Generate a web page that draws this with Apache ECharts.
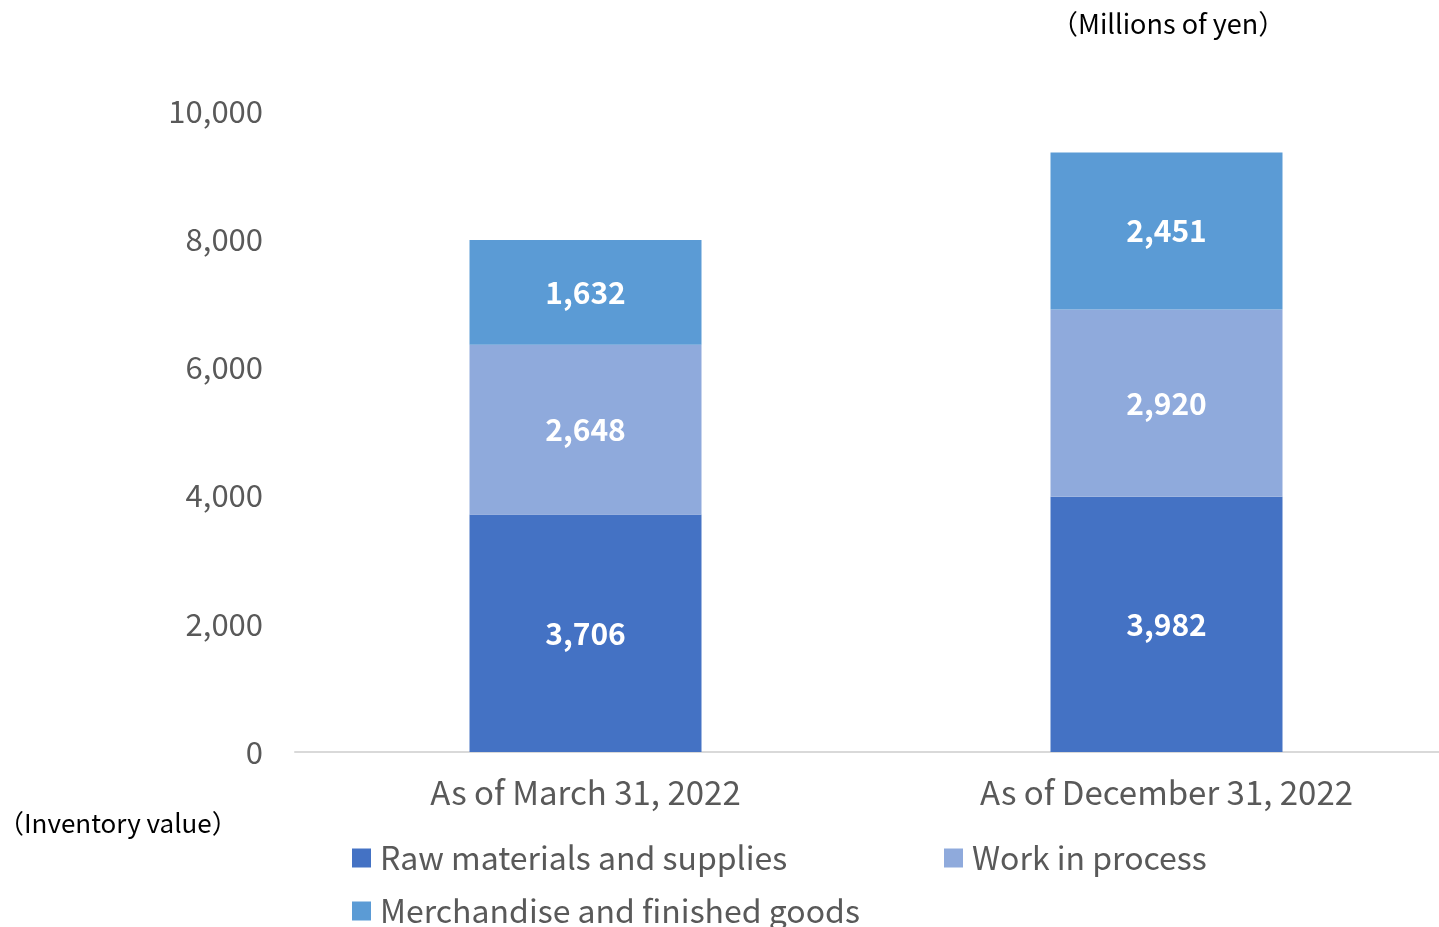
<!DOCTYPE html>
<html>
<head>
<meta charset="utf-8">
<script src="https://cdn.jsdelivr.net/npm/echarts@6/dist/echarts.min.js"></script>
<style>
html,body{margin:0;padding:0;background:#fff;overflow:hidden;}
#c{width:1457px;height:927px;}
</style>
</head>
<body>
<div id="c"></div>
<script>
const categories = ['As of March 31, 2022', 'As of December 31, 2022'];
const seriesNames = ['Raw materials and supplies', 'Work in process', 'Merchandise and finished goods'];
const rawMaterials = [3706, 3982];
const workInProcess = [2648, 2920];
const merchandise = [1632, 2451];
const yTicks = { min: 0, max: 10000, interval: 2000 };

const FONT = '"Noto Sans CJK JP", "Noto Sans", sans-serif';
const GRAY = '#595959';
const colors = ['#4472C4', '#8FAADC', '#5B9BD5'];
const values = [rawMaterials, workInProcess, merchandise];

const chart = echarts.init(document.getElementById('c'));
const labelStyle = {
  show: true, position: 'inside', color: '#fff', fontFamily: FONT,
  fontSize: 30, fontWeight: 'bold',
  formatter: p => p.value.toLocaleString('en-US')
};
const legendPos = [
  { left: 352, top: 842 },
  { left: 944, top: 842 },
  { left: 352, top: 895 }
];
chart.setOption({
  animation: false,
  textStyle: { fontFamily: FONT },
  grid: { left: 295, top: 111, width: 1162, height: 641, containLabel: false },
  legend: seriesNames.map((n, i) => ({
    data: [n], left: legendPos[i].left, top: legendPos[i].top,
    icon: 'rect', itemWidth: 19, itemHeight: 19, itemGap: 0,
    textStyle: { color: GRAY, fontSize: 32, fontFamily: FONT, padding: [0, 0, 0, 4] },
    padding: 0
  })),
  xAxis: {
    type: 'category', data: categories,
    axisLine: { lineStyle: { color: '#D9D9D9', width: 2 } },
    axisTick: { show: false },
    axisLabel: { color: GRAY, fontSize: 33, fontFamily: FONT, margin: 24 }
  },
  yAxis: {
    type: 'value', min: yTicks.min, max: yTicks.max, interval: yTicks.interval,
    splitLine: { show: false },
    axisLine: { show: false }, axisTick: { show: false },
    axisLabel: { color: GRAY, fontSize: 31, fontFamily: FONT, margin: 32,
      formatter: v => v.toLocaleString('en-US') }
  },
  graphic: [
    { type: 'text', left: 1051, top: 10, style: { text: '（Millions of yen）', fill: '#000', font: '27px ' + FONT } },
    { type: 'text', left: -2, top: 810, style: { text: '（Inventory value）', fill: '#000', font: '26px ' + FONT } }
  ],
  series: seriesNames.map((n, i) => ({
    name: n, type: 'bar', stack: 'total', data: values[i], barWidth: 232,
    itemStyle: { color: colors[i] }, label: labelStyle
  }))
});
</script>
</body>
</html>
